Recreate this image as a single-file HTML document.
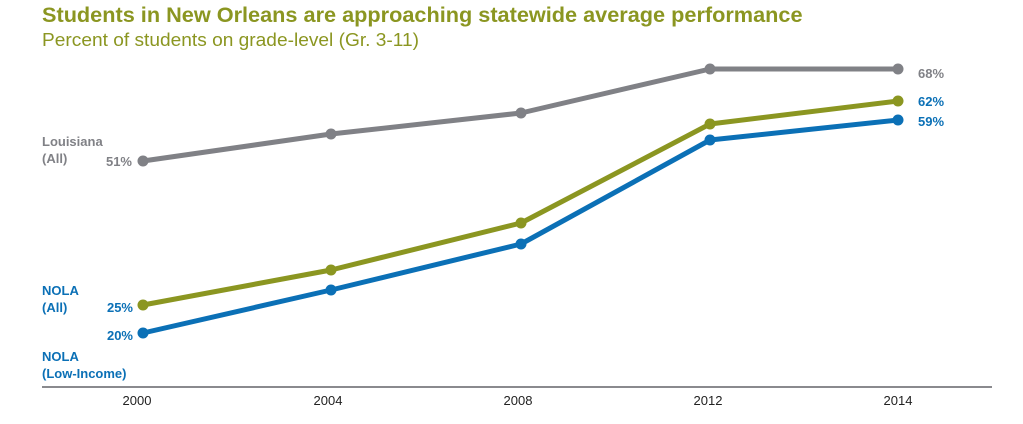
<!DOCTYPE html>
<html><head><meta charset="utf-8"><style>
body{margin:0;background:#fff;width:1023px;height:419px;overflow:hidden}
svg text{font-family:"Liberation Sans",sans-serif}
</style></head><body>
<svg width="1023" height="419" viewBox="0 0 1023 419" xmlns="http://www.w3.org/2000/svg">
<text x="42" y="22" font-size="21.7" font-weight="bold" fill="#8b9621">Students in New Orleans are approaching statewide average performance</text>
<text x="42" y="46" font-size="18.5" fill="#8b9621" textLength="377" lengthAdjust="spacingAndGlyphs">Percent of students on grade-level (Gr. 3-11)</text>
<line x1="42" y1="387" x2="992" y2="387" stroke="#8a8a8e" stroke-width="2"/>
<g font-size="13" fill="#222" text-anchor="middle">
<text x="137" y="405">2000</text><text x="328" y="405">2004</text><text x="518" y="405">2008</text><text x="708" y="405">2012</text><text x="898" y="405">2014</text>
</g>
<g stroke-width="5" fill="none" stroke-linejoin="round">
<polyline points="143,161 331,134 521,113 710,69 898,69" stroke="#808186"/>
<polyline points="143,305 331,270 521,223 710,124 898,101" stroke="#8b9621"/>
<polyline points="143,333 331,290 521,244 710,140 898,120" stroke="#0b70b6"/>
</g>
<g fill="#808186"><circle cx="143" cy="161" r="5.5"/><circle cx="331" cy="134" r="5.5"/><circle cx="521" cy="113" r="5.5"/><circle cx="710" cy="69" r="5.5"/><circle cx="898" cy="69" r="5.5"/></g>
<g fill="#8b9621"><circle cx="143" cy="305" r="5.5"/><circle cx="331" cy="270" r="5.5"/><circle cx="521" cy="223" r="5.5"/><circle cx="710" cy="124" r="5.5"/><circle cx="898" cy="101" r="5.5"/></g>
<g fill="#0b70b6"><circle cx="143" cy="333" r="5.5"/><circle cx="331" cy="290" r="5.5"/><circle cx="521" cy="244" r="5.5"/><circle cx="710" cy="140" r="5.5"/><circle cx="898" cy="120" r="5.5"/></g>
<g font-size="13" font-weight="bold">
<text x="42" y="146" fill="#808186">Louisiana</text><text x="42" y="163" fill="#808186">(All)</text>
<text x="132" y="166" fill="#808186" text-anchor="end">51%</text>
<text x="42" y="295" fill="#0b70b6">NOLA</text><text x="42" y="312" fill="#0b70b6">(All)</text>
<text x="133" y="312" fill="#0b70b6" text-anchor="end">25%</text>
<text x="133" y="340" fill="#0b70b6" text-anchor="end">20%</text>
<text x="42" y="361" fill="#0b70b6">NOLA</text><text x="42" y="378" fill="#0b70b6">(Low-Income)</text>
<text x="918" y="78" fill="#808186">68%</text>
<text x="918" y="106" fill="#0b70b6">62%</text>
<text x="918" y="126" fill="#0b70b6">59%</text>
</g>
</svg>
</body></html>
